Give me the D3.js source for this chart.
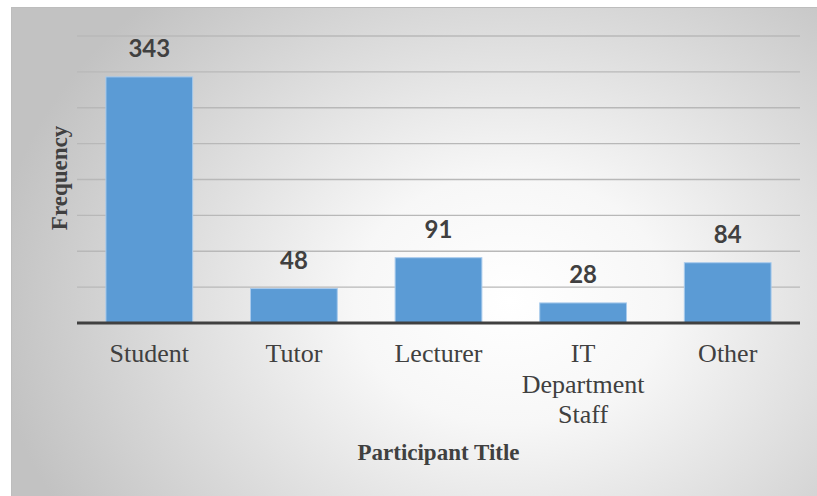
<!DOCTYPE html>
<html>
<head>
<meta charset="utf-8">
<script src="https://cdn.jsdelivr.net/npm/d3@7"></script>
<style>
    body { margin: 0; background: #fff; }
    svg { display: block; }
</style>
</head>
<body>
<div id="chart"></div>
<script>
// chart data
var categories = ["Student", "Tutor", "Lecturer", "IT Department Staff", "Other"];
var frequencies = [343, 48, 91, 28, 84];
var gridValues = [50, 100, 150, 200, 250, 300, 350, 400];

var width = 817;
var height = 496;

//plot area
var plotLeft = 77, plotRight = 800, plotTop = 36, plotBottom = 323;

var svg = d3.select("#chart")
    .append("svg")
    .attr("width", width)
    .attr("height", height);

// background gradient like the office chart area
var grad = svg.append("defs")
    .append("radialGradient")
    .attr("id", "bg")
    .attr("gradientUnits", "userSpaceOnUse")
    .attr("cx", 510).attr("cy", 300).attr("r", 520)
    .attr("gradientTransform", "translate(510,300) scale(1,0.8) translate(-510,-300)");
grad.append("stop").attr("offset", "0").attr("stop-color", "#ffffff");
grad.append("stop").attr("offset", "0.3").attr("stop-color", "#f7f7f7");
grad.append("stop").attr("offset", "1").attr("stop-color", "#c2c2c2");

svg.append("rect")
    .attr("x", 11.5).attr("y", 7.5)
    .attr("width", width - 11).attr("height", height - 7)
    .style("fill", "url(#bg)")
    .style("stroke", "#bdbdbd")
    .style("stroke-width", 1);

var x = d3.scaleBand()
    .domain(categories)
    .range([plotLeft, plotRight])
    .paddingInner(0.4)
    .paddingOuter(0.2);

var y = d3.scaleLinear()
    .domain([0, 400])
    .range([plotBottom, plotTop]);

// gridlines
svg.append("g")
    .selectAll("line")
    .data(gridValues)
    .enter()
    .append("line")
    .attr("x1", plotLeft)
    .attr("x2", plotRight)
    .attr("y1", function(d) { return y(d); })
    .attr("y2", function(d) { return y(d); })
    .style("stroke", "#b8b8b8")
    .style("stroke-width", 1.3);

// bars
svg.append("g")
    .selectAll("rect")
    .data(frequencies)
    .enter()
    .append("rect")
    .attr("x", function(d, i) { return x(categories[i]); })
    .attr("y", function(d) { return y(d); })
    .attr("width", x.bandwidth())
    .attr("height", function(d) { return y(0) - y(d); })
    .style("fill", "#5b9bd5")
    .style("stroke", "#a9cbec")
    .style("stroke-width", 1);

// value labels
svg.append("g")
    .selectAll("text")
    .data(frequencies)
    .enter()
    .append("text")
    .attr("x", function(d, i) { return x(categories[i]) + x.bandwidth() / 2; })
    .attr("y", function(d) { return y(d) - 20; })
    .attr("text-anchor", "middle")
    .style("font-family", "Lato, 'Open Sans', sans-serif")
    .style("font-weight", "bold")
    .style("font-size", "24px")
    .style("fill", "#404040")
    .text(function(d) { return d; });

// x axis
var xAxis = svg.append("g")
    .attr("transform", "translate(0," + plotBottom + ")")
    .call(d3.axisBottom(x).tickSize(0));

xAxis.select(".domain").remove();

xAxis.selectAll("text")
    .attr("y", 39)
    .attr("dy", null)
    .style("font-family", "'Liberation Serif', 'Times New Roman', serif")
    .style("font-size", "26px")
    .style("fill", "#404040")
    .call(wrap, 130);

// thick base line
svg.append("line")
    .attr("x1", plotLeft)
    .attr("x2", plotRight)
    .attr("y1", y(0))
    .attr("y2", y(0))
    .style("stroke", "#404040")
    .style("stroke-width", 3);

// axis titles
svg.append("text")
    .attr("x", (plotLeft + plotRight) / 2)
    .attr("y", 460)
    .attr("text-anchor", "middle")
    .style("font-family", "'Liberation Serif', 'Times New Roman', serif")
    .style("font-weight", "bold")
    .style("font-size", "23px")
    .style("fill", "#404040")
    .text("Participant Title");

svg.append("text")
    .attr("transform", "translate(67,178) rotate(-90)")
    .attr("text-anchor", "middle")
    .style("font-family", "'Liberation Serif', 'Times New Roman', serif")
    .style("font-weight", "bold")
    .style("font-size", "23px")
    .style("fill", "#404040")
    .text("Frequency");

// split long tick labels on several lines
function wrap(texts, maxWidth) {
    texts.each(function() {
        var text = d3.select(this);
        var words = text.text().split(" ");
        var yPos = text.attr("y");
        var lines = [];
        var line = [];
        text.text(null);
        var probe = text.append("tspan");
        words.forEach(function(w) {
            line.push(w);
            probe.text(line.join(" "));
            if (probe.node().getComputedTextLength() > maxWidth && line.length > 1) {
                line.pop();
                lines.push(line.join(" "));
                line = [w];
            }
        });
        lines.push(line.join(" "));
        probe.remove();
        lines.forEach(function(l, i) {
            text.append("tspan")
                .attr("x", 0)
                .attr("y", +yPos + i * 30.5)
                .text(l);
        });
    });
}
</script>
</body>
</html>
